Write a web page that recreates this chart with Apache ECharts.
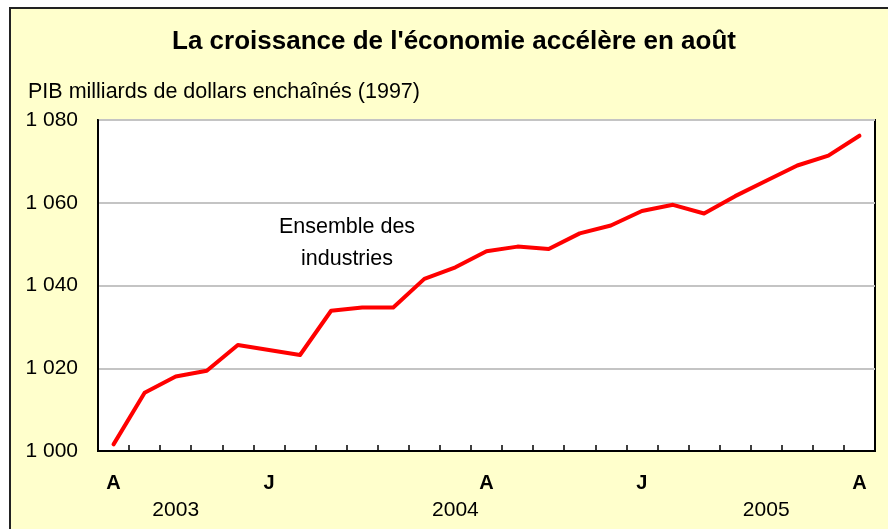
<!DOCTYPE html>
<html>
<head>
<meta charset="utf-8">
<script src="https://cdn.jsdelivr.net/npm/echarts@6/dist/echarts.min.js"></script>
<style>
html,body{margin:0;padding:0;background:#fff;}
#chart{width:888px;height:529px;}
</style>
</head>
<body>
<div id="chart"></div>
<script>
const categories = ['2003-08','2003-09','2003-10','2003-11','2003-12','2004-01','2004-02','2004-03','2004-04','2004-05','2004-06','2004-07','2004-08','2004-09','2004-10','2004-11','2004-12','2005-01','2005-02','2005-03','2005-04','2005-05','2005-06','2005-07','2005-08'];
const gdpValues = [1001.6,1014.1,1018.0,1019.4,1025.6,1024.4,1023.2,1033.9,1034.7,1034.7,1041.6,1044.4,1048.3,1049.4,1048.8,1052.6,1054.5,1058.0,1059.5,1057.4,1061.6,1065.3,1069.0,1071.4,1076.2];
const monthTickLabels = {0:'A',5:'J',12:'A',17:'J',24:'A'};
const yearTickLabels = {2:'2003',11:'2004',21:'2005'};
const titleText = "La croissance de l'économie accélère en août";
const unitText = 'PIB milliards de dollars enchaînés (1997)';
const seriesLabel = 'Ensemble des\nindustries';

const FONT = '"Liberation Sans", Arial, sans-serif';
const chart = echarts.init(document.getElementById('chart'), null, {renderer:'canvas'});
chart.setOption({
  backgroundColor:'#ffffff',
  animation:false,
  graphic:[
    {type:'rect', z:-100, silent:true, shape:{x:10,y:8,width:900,height:600},
     style:{fill:'#FFFFCC', stroke:'#222', lineWidth:2}},
    {type:'text', z:10, x:454, y:42, style:{text:titleText, font:'bold 26px '+FONT, fill:'#000', textAlign:'center', textVerticalAlign:'middle'}},
    {type:'text', z:10, x:28, y:92, style:{text:unitText, font:'21.5px '+FONT, fill:'#000', textAlign:'left', textVerticalAlign:'middle'}},
    {type:'text', z:10, x:347, y:243, style:{text:seriesLabel, font:'21.5px '+FONT, fill:'#000', textAlign:'center', textVerticalAlign:'middle', lineHeight:32}}
  ],
  grid:{left:98, right:13, top:120, bottom:78, show:true, backgroundColor:'#ffffff', borderColor:'#000', borderWidth:2},
  xAxis:[
    {type:'category', data:categories, boundaryGap:true, position:'bottom',
     axisLine:{show:true, lineStyle:{color:'#000', width:2}},
     axisTick:{show:true, inside:true, length:6, interval:0, lineStyle:{color:'#000', width:1.5}},
     axisLabel:{interval:0, margin:22, color:'#000', fontFamily:FONT, fontSize:20, fontWeight:'bold',
       formatter:(v,i)=>monthTickLabels[i]||''},
     splitLine:{show:false}},
    {type:'category', data:categories, boundaryGap:true, position:'bottom',
     axisLine:{show:false}, axisTick:{show:false},
     axisLabel:{interval:0, margin:49, color:'#000', fontFamily:FONT, fontSize:21,
       formatter:(v,i)=>yearTickLabels[i]||''},
     splitLine:{show:false}}
  ],
  yAxis:{type:'value', min:1000, max:1080, interval:20,
    axisLine:{show:true, lineStyle:{color:'#000', width:2}},
    axisTick:{show:false},
    axisLabel:{margin:20, color:'#000', fontFamily:FONT, fontSize:21, padding:[3,0,0,0],
      formatter:v=>{const s=String(Math.round(v)); return s.length>3 ? s.slice(0,s.length-3)+' '+s.slice(-3) : s;}},
    splitLine:{show:true, lineStyle:{color:'#c4c4c4', width:2}}},
  series:[{type:'line', xAxisIndex:0, data:gdpValues, showSymbol:false, symbol:'none',
    lineStyle:{color:'#ff0000', width:4, cap:'round', join:'round'}}]
});
</script>
</body>
</html>
